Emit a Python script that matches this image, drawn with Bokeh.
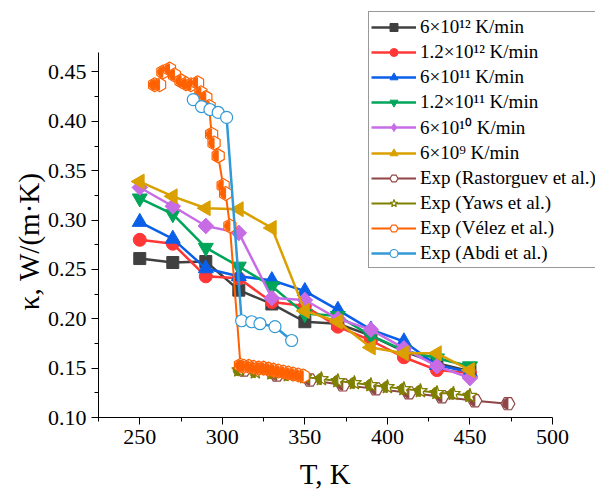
import numpy as np
from bokeh.plotting import figure
from bokeh.models import Range1d, Legend, LegendItem, NumeralTickFormatter, FixedTicker
from bokeh.embed import file_html
from bokeh.resources import INLINE

# ---------------- data ----------------
T_sim = [250, 270, 290, 310, 330, 350, 370, 390, 410, 430, 450]
k_6e12 = [0.261, 0.257, 0.258, 0.229, 0.215, 0.197, 0.195, 0.183, 0.167, 0.155, 0.147]
k_12e12 = [0.280, 0.276, 0.243, 0.241, 0.217, 0.213, 0.192, 0.178, 0.161, 0.148, 0.145]
k_6e11 = [0.298, 0.281, 0.251, 0.243, 0.239, 0.228, 0.209, 0.189, 0.177, 0.153, 0.146]
k_12e11 = [0.322, 0.306, 0.272, 0.253, 0.233, 0.205, 0.203, 0.183, 0.168, 0.160, 0.152]
k_6e10 = [0.333, 0.314, 0.294, 0.287, 0.221, 0.219, 0.200, 0.189, 0.170, 0.152, 0.140]
k_6e9 = [0.339, 0.324, 0.312, 0.311, 0.292, 0.208, 0.197, 0.171, 0.165, 0.165, 0.148]

T_rast = [313, 333, 353, 373, 393, 413, 433, 453, 473]
k_rast = [0.148, 0.143, 0.138, 0.133, 0.129, 0.125, 0.121, 0.117, 0.114]

T_yaws = [310, 320, 330, 340, 350, 360, 370, 380, 390, 400, 410, 420, 430, 440, 450]
k_yaws = [0.148, 0.146, 0.145, 0.143, 0.141, 0.139, 0.137, 0.135, 0.133,
          0.131, 0.129, 0.127, 0.125, 0.124, 0.122]

T_velez = [259, 262, 264, 268, 271, 275, 278, 281, 285, 287, 290, 292, 293.5, 295,
           297.5, 300.5, 302, 304.6, 311, 313, 316, 319, 322, 325, 328, 331, 334,
           337, 340, 343, 346, 349]
k_velez = [0.437, 0.437, 0.450, 0.453, 0.447, 0.441, 0.438, 0.437, 0.439, 0.429,
           0.424, 0.415, 0.387, 0.378, 0.365, 0.335, 0.327, 0.294, 0.153, 0.152,
           0.152, 0.151, 0.150, 0.150, 0.149, 0.148, 0.147, 0.146, 0.145, 0.144,
           0.143, 0.142]

T_abdi = [282.4, 287.4, 292.5, 297.5, 302.6, 311.7, 317.8, 322.8, 331.9, 342.0]
k_abdi = [0.422, 0.415, 0.412, 0.409, 0.404, 0.198, 0.197, 0.195, 0.192, 0.178]

labels = ["6×10¹² K/min", "1.2×10¹² K/min", "6×10¹¹ K/min", "1.2×10¹¹ K/min",
          "6×10¹⁰ K/min", "6×10⁹ K/min", "Exp (Rastorguev et al.)",
          "Exp (Yaws et al.)", "Exp (Vélez et al.)", "Exp (Abdi et al.)"]

x_ticks = [250, 300, 350, 400, 450, 500]
x_minor = [225, 275, 325, 375, 425, 475]
y_ticks = [0.10, 0.15, 0.20, 0.25, 0.30, 0.35, 0.40, 0.45]
y_minor = [0.125, 0.175, 0.225, 0.275, 0.325, 0.375, 0.425]

FONT = "Liberation Serif"
NB = "\u00a0"

# frame covers right/top of canvas so the legend (outside the axes box) is not clipped;
# axis bounds keep the axis lines at the original extent
p = figure(width=595, height=492, output_backend="svg", toolbar_location=None,
           x_range=Range1d(225, 526.05), y_range=Range1d(0.10, 0.5224),
           min_border_left=98, min_border_right=0, min_border_top=0,
           min_border_bottom=73)
p.background_fill_color = "white"
p.border_fill_color = "white"
p.outline_line_color = None
p.xgrid.visible = False
p.ygrid.visible = False

for ax in (p.xaxis[0], p.yaxis[0]):
    ax.axis_line_color = "black"
    ax.axis_line_width = 1
    ax.major_tick_line_color = "black"
    ax.minor_tick_line_color = "black"
    ax.major_tick_in = 0
    ax.major_tick_out = 7
    ax.minor_tick_in = 0
    ax.minor_tick_out = 4
    ax.major_label_text_font = FONT
    ax.major_label_text_font_size = "22px"
    ax.major_label_text_color = "black"
    ax.major_label_standoff = 5
    ax.axis_label_text_font = FONT
    ax.axis_label_text_font_size = "29px"
    ax.axis_label_text_font_style = "normal"
    ax.axis_label_text_color = "black"

p.xaxis[0].bounds = (225, 500)
p.yaxis[0].bounds = (0.10, 0.47)
p.xaxis[0].ticker = FixedTicker(ticks=x_ticks, minor_ticks=x_minor)
p.yaxis[0].ticker = FixedTicker(ticks=y_ticks, minor_ticks=y_minor)
p.yaxis[0].formatter = NumeralTickFormatter(format="0.00")
p.xaxis[0].axis_label = "T, K" + NB * 6
p.yaxis[0].axis_label = "κ, W/(m·K)" + NB * 9
p.xaxis[0].axis_label_standoff = 11
p.yaxis[0].axis_label_standoff = 0

items = []

def sim(T, k, color, marker, size, label, angle=0.0, under=None, under_size=None):
    r1 = p.line(T, k, line_color=color, line_width=2.5)
    rs = [r1]
    if under is not None:
        # marker drawn beneath (covered in the plot) that gives the legend its symbol
        rs.append(p.scatter(T, k, marker=under, size=under_size,
                            fill_color=color, line_color=color))
    r2 = p.scatter(T, k, marker=marker, size=size, fill_color=color, line_color=color,
                   angle=angle)
    if under is None:
        rs.append(r2)
    items.append(LegendItem(label=label, renderers=rs))

sim(T_sim, k_6e12, "#404040", "square", 12, labels[0])
sim(T_sim, k_12e12, "#FF3737", "circle", 13, labels[1])
sim(T_sim, k_6e11, "#0A5FE8", "triangle", 15, labels[2])
sim(T_sim, k_12e11, "#00A55A", "inverted_triangle", 15, labels[3])
sim(T_sim, k_6e10, "#C86CE6", "square", 11, labels[4], angle=np.pi / 4,
    under="diamond", under_size=15)
sim(T_sim, k_6e9, "#D9A000", "triangle", 15, labels[5], angle=np.pi / 2)

def expt(T, k, color, marker, size, label, width=2.0, half=True, angle=0.0):
    r1 = p.line(T, k, line_color=color, line_width=width)
    r2 = p.scatter(T, k, marker=marker, size=size, fill_color="white", line_color=color,
                   line_width=1.2, angle=angle)
    if half:
        p.wedge(T, k, radius=size * 0.38, radius_units="screen",
                start_angle=np.pi / 2, end_angle=3 * np.pi / 2,
                fill_color=color, line_color=color)
    items.append(LegendItem(label=label, renderers=[r1, r2]))

expt(T_rast, k_rast, "#8F4545", "hex", 14, labels[6])
expt(T_yaws, k_yaws, "#808000", "star", 15, labels[7])
expt(T_velez, k_velez, "#FF6000", "hex", 14, labels[8], angle=np.pi / 2)
expt(T_abdi, k_abdi, "#3399D6", "circle", 12, labels[9], width=2.5, half=False)

legend = Legend(items=items, location=(270, 149))
legend.label_text_font = FONT
legend.label_text_font_size = "19px"
legend.label_text_color = "black"
legend.glyph_width = 45
legend.glyph_height = 20
legend.label_height = 25
legend.label_standoff = 4
legend.spacing = 0
legend.padding = 2
legend.margin = 0
legend.border_line_color = "#333333"
legend.border_line_width = 1
legend.background_fill_color = "white"
legend.background_fill_alpha = 1.0
p.add_layout(legend, "center")

open("out.html", "w").write(file_html(p, INLINE))
